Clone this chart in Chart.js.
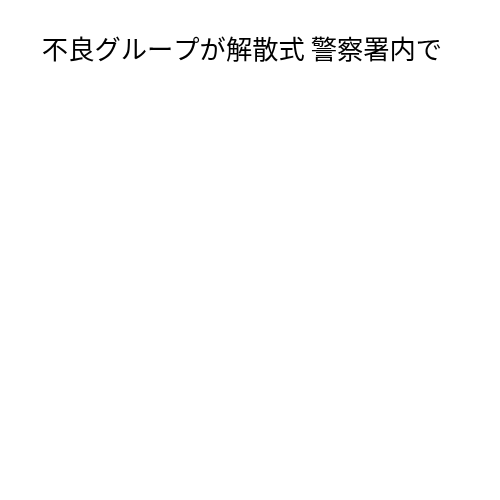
<!DOCTYPE html>
<html>
<head>
<meta charset="utf-8">
<script src="https://cdn.jsdelivr.net/npm/chart.js@4"></script>
<style>
  html, body { margin: 0; padding: 0; background: #fff; }
  #wrap { width: 500px; height: 500px; }
</style>
</head>
<body>
<div id="wrap"><canvas id="chart"></canvas></div>
<script>
// Chart has only a title, no marks
const titleText = '不良グループが解散式 警察署内で';
const categories = [];
const values = [];

new Chart(document.getElementById('chart'), {
  type: 'bar',
  data: {
    labels: categories,
    datasets: [{ data: values, backgroundColor: '#1f77b4' }]
  },
  options: {
    responsive: true,
    maintainAspectRatio: false,
    animation: false,
    layout: { padding: { right: 16 } },
    scales: {
      x: { display: false },
      y: { display: false }
    },
    plugins: {
      legend: { display: false },
      tooltip: { enabled: false },
      title: {
        display: true,
        text: titleText,
        color: '#000',
        font: { family: '"Noto Sans CJK JP", sans-serif', size: 26.3, weight: 'normal' },
        padding: { top: 33, bottom: 10 }
      }
    }
  }
});
</script>
</body>
</html>
